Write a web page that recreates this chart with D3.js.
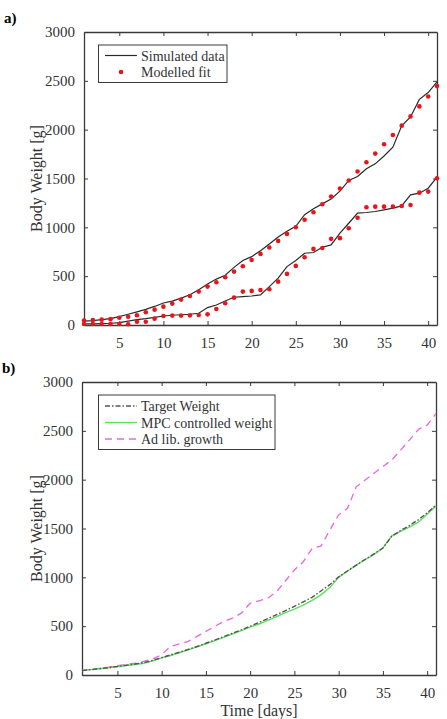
<!DOCTYPE html>
<html>
<head>
<meta charset="utf-8">
<script src="https://cdn.jsdelivr.net/npm/d3@7"></script>
<style>
  body { margin: 0; background: #fff; }
  svg text { font-family: "Liberation Serif", "Times New Roman", serif; fill: #333; }
</style>
</head>
<body>
<div id="canvas"></div>
<script>
"use strict";

/* -------------------- Data -------------------- */

let days = d3.range(1, 42);

// panel a
let simUpper = [40, 45, 55, 65, 85, 110, 135, 160, 190, 225, 245, 275, 310, 360, 420, 470, 510, 590, 660, 700,
    760, 830, 900, 960, 1010, 1130, 1190, 1240, 1290, 1370, 1480, 1520, 1600, 1650, 1730, 1820, 2040, 2130, 2310, 2380, 2490];
let fitUpper = [45, 50, 55, 60, 75, 85, 100, 130, 157, 188, 219, 260, 297, 342, 393, 437, 489, 547, 601, 666,
    728, 793, 861, 933, 1001, 1077, 1155, 1237, 1316, 1398, 1480, 1572, 1667, 1755, 1850, 1946, 2041, 2136, 2238, 2340, 2446];
let simLower = [12, 12, 15, 18, 24, 40, 55, 65, 78, 92, 100, 105, 110, 120, 178, 205, 246, 284, 290, 297,
    308, 393, 479, 598, 660, 735, 742, 796, 820, 940, 1042, 1145, 1152, 1162, 1179, 1196, 1220, 1333, 1350, 1401, 1515];
let fitLower = [10, 10, 10, 10, 10, 8, 34, 34, 65, 92, 96, 96, 99, 103, 109, 164, 222, 280, 342, 349,
    359, 366, 444, 523, 605, 694, 779, 789, 882, 889, 991, 1098, 1205, 1212, 1212, 1212, 1218, 1229, 1355, 1366, 1502];

// panel b
let targetWeight = [45, 55, 65, 75, 88, 100, 112, 128, 150, 178, 205, 233, 262, 292, 325, 358, 392, 427, 462, 500,
    538, 578, 618, 660, 703, 748, 795, 860, 925, 1005, 1065, 1125, 1185, 1240, 1300, 1420, 1480, 1530, 1590, 1660, 1740];
let mpcWeight = [45, 55, 64, 73, 85, 97, 108, 120, 145, 175, 200, 228, 257, 288, 320, 352, 386, 420, 455, 490,
    522, 560, 598, 638, 675, 715, 765, 820, 895, 1000, 1065, 1125, 1180, 1235, 1300, 1425, 1470, 1515, 1565, 1645, 1730];
let adLib = [48, 58, 68, 80, 95, 108, 122, 139, 165, 207, 293, 318, 344, 395, 446, 497, 548, 582, 633, 735,
    760, 786, 854, 965, 1075, 1160, 1296, 1320, 1483, 1640, 1707, 1929, 1997, 2065, 2133, 2201, 2303, 2405, 2514, 2558, 2677];

let xTicks = [5, 10, 15, 20, 25, 30, 35, 40];
let yTicks = [0, 500, 1000, 1500, 2000, 2500, 3000];

/* -------------------- SVG -------------------- */

let svgWidth = 447;
let svgHeight = 719;

let svg = d3.select("#canvas")
    .append("svg")
    .attr("width", svgWidth)
    .attr("height", svgHeight);

let axisColor = "#3a3a3a";

/* draw one boxed matlab-style axes, returns scales */
function drawAxes(left, top, right, bottom) {
    let xScale = d3.scaleLinear().domain([1, 41]).range([left, right]);
    let yScale = d3.scaleLinear().domain([0, 3000]).range([bottom, top]);

    let g = svg.append("g");

    g.append("g")
        .attr("transform", "translate(0," + bottom + ")")
        .call(d3.axisBottom(xScale).tickValues(xTicks).tickFormat(d3.format("d"))
            .tickSizeInner(-4).tickSizeOuter(0).tickPadding(12));
    g.append("g")
        .attr("transform", "translate(0," + top + ")")
        .call(d3.axisTop(xScale).tickValues(xTicks).tickSizeInner(-4).tickSizeOuter(0).tickFormat(""));
    g.append("g")
        .attr("transform", "translate(" + left + ",0)")
        .call(d3.axisLeft(yScale).tickValues(yTicks).tickFormat(d3.format("d"))
            .tickSizeInner(-4).tickSizeOuter(0).tickPadding(9));
    g.append("g")
        .attr("transform", "translate(" + right + ",0)")
        .call(d3.axisRight(yScale).tickValues(yTicks).tickSizeInner(-4).tickSizeOuter(0).tickFormat(""));

    g.selectAll(".domain").attr("stroke", axisColor).attr("stroke-width", 1.3);
    g.selectAll(".tick line").attr("stroke", axisColor).attr("stroke-width", 1);
    g.selectAll(".tick text")
        .attr("font-size", 15)
        .attr("fill", "#333")
        .style("font-family", "'Liberation Serif', 'Times New Roman', serif");

    svg.append("text")
        .attr("transform", "translate(42," + ((top + bottom) / 2) + ") rotate(-90)")
        .attr("text-anchor", "middle")
        .attr("font-size", 16)
        .text("Body Weight [g]");

    return { x: xScale, y: yScale };
}

/* -------------------- Panel a -------------------- */

let a = drawAxes(84, 32, 437, 325);

svg.append("text")
    .attr("x", 4)
    .attr("y", 23)
    .attr("font-size", 15)
    .attr("font-weight", "bold")
    .style("fill", "#000")
    .text("a)");

let lineA = d3.line()
    .x(function (d, i) { return a.x(days[i]); })
    .y(function (d) { return a.y(d); });

[simUpper, simLower].forEach(function (series) {
    svg.append("path")
        .attr("d", lineA(series))
        .attr("fill", "none")
        .attr("stroke", "#2a2a2a")
        .attr("stroke-width", 1.2);
});

[fitUpper, fitLower].forEach(function (series) {
    svg.append("g")
        .selectAll("circle")
        .data(series)
        .join("circle")
        .attr("cx", function (d, i) { return a.x(days[i]); })
        .attr("cy", function (d) { return a.y(d); })
        .attr("r", 2.3)
        .attr("fill", "#e8161c");
});

/* Legend a */
svg.append("rect")
    .attr("x", 98.5)
    .attr("y", 45)
    .attr("width", 128.5)
    .attr("height", 37.5)
    .attr("fill", "#fff")
    .attr("stroke", axisColor)
    .attr("stroke-width", 1);

svg.append("line")
    .attr("x1", 105).attr("x2", 137)
    .attr("y1", 55.5).attr("y2", 55.5)
    .attr("stroke", "#2a2a2a")
    .attr("stroke-width", 1.2);
svg.append("text")
    .attr("x", 141).attr("y", 60.5)
    .attr("font-size", 14)
    .text("Simulated data");

svg.append("circle")
    .attr("cx", 121).attr("cy", 72)
    .attr("r", 2.3)
    .attr("fill", "#e8161c");
svg.append("text")
    .attr("x", 141).attr("y", 77)
    .attr("font-size", 14)
    .text("Modelled fit");

/* -------------------- Panel b -------------------- */

let b = drawAxes(82, 382, 436, 675);

svg.append("text")
    .attr("x", 2)
    .attr("y", 373)
    .attr("font-size", 15)
    .attr("font-weight", "bold")
    .style("fill", "#000")
    .text("b)");

svg.append("text")
    .attr("x", 259)
    .attr("y", 716)
    .attr("text-anchor", "middle")
    .attr("font-size", 16)
    .text("Time [days]");

let lineB = d3.line()
    .x(function (d, i) { return b.x(days[i]); })
    .y(function (d) { return b.y(d); });

let seriesB = [
    { values: adLib, color: "#e667e6", dash: "7,5", width: 1.3 },
    { values: mpcWeight, color: "#5fe05f", dash: null, width: 1.4 },
    { values: targetWeight, color: "#555", dash: "5,2,1.5,2", width: 1.4 }
];

seriesB.forEach(function (s) {
    svg.append("path")
        .attr("d", lineB(s.values))
        .attr("fill", "none")
        .attr("stroke", s.color)
        .attr("stroke-width", s.width)
        .attr("stroke-dasharray", s.dash);
});

/* Legend b */
svg.append("rect")
    .attr("x", 98.5)
    .attr("y", 395)
    .attr("width", 176.5)
    .attr("height", 54.5)
    .attr("fill", "#fff")
    .attr("stroke", axisColor)
    .attr("stroke-width", 1);

let legendB = [
    { label: "Target Weight", s: seriesB[2], y: 406 },
    { label: "MPC controlled weight", s: seriesB[1], y: 422.5 },
    { label: "Ad lib. growth", s: seriesB[0], y: 439 }
];

legendB.forEach(function (d) {
    svg.append("line")
        .attr("x1", 105).attr("x2", 137)
        .attr("y1", d.y).attr("y2", d.y)
        .attr("stroke", d.s.color)
        .attr("stroke-width", d.s.width)
        .attr("stroke-dasharray", d.s.dash);
    svg.append("text")
        .attr("x", 141).attr("y", d.y + 5)
        .attr("font-size", 14)
        .text(d.label);
});
</script>
</body>
</html>
